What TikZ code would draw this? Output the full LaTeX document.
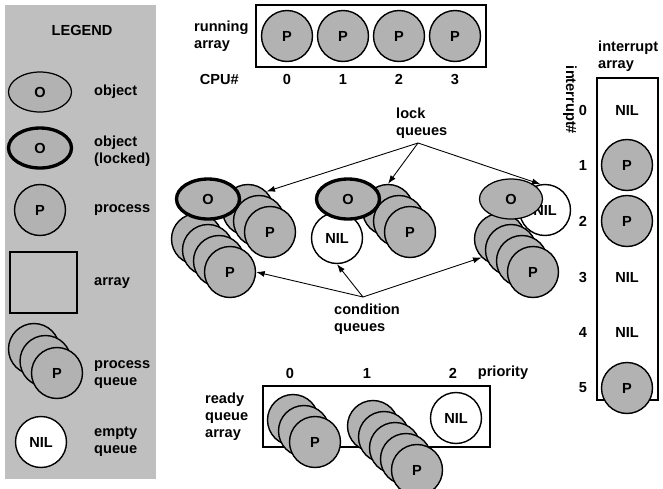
\documentclass[tikz,border=0pt]{standalone}
\usepackage{fontspec}
\setmainfont{Liberation Sans}
\usetikzlibrary{shapes.geometric, arrows.meta}
\definecolor{procfill}{gray}{0.7}
\definecolor{legendbg}{gray}{0.75}
\tikzset{>={Latex[length=1.7mm, width=1.2mm]},
  every node/.style={font=\fontsize{8.3}{9.7}\selectfont\bfseries},
  proc/.style={circle, draw, line width=0.8pt, fill=procfill, minimum size=1.02cm, inner sep=0pt},
  emptyq/.style={proc, fill=white},
  obj/.style={ellipse, draw, line width=0.7pt, fill=procfill, minimum width=1.26cm, minimum height=0.8cm, inner sep=0pt},
  lockedobj/.style={obj, line width=1.9pt},
  arraybox/.style={draw, line width=1.1pt},
  lbl/.style={anchor=west, align=left},
  qarrow/.style={->, line width=0.5pt}
}

\begin{document}
\begin{tikzpicture}[x=0.02cm, y=-0.02cm]
\useasboundingbox (0,0) rectangle (663,488);
% legend
\fill[legendbg] (5,5) rectangle (156,479);
\node (legend) at (82,30) {LEGEND};
\node[obj] (lgobj) at (40,92) {O};
\node[lbl] (lgobjt) at (88,92) {object};
\node[lockedobj] (lglock) at (40,148) {O};
\node[lbl] (lglockt) at (88,151) {object\\(locked)};
\node[proc] (lgproc) at (40,210) {P};
\node[lbl] (lgproct) at (88,210) {process};
\draw[arraybox] (10,252) rectangle (77,313);
\node[lbl] (lgarrt) at (88,283) {array};
\foreach \i in {0,1}
  \node[proc] (lgq\i) at ({34+11.5*\i},{349+12*\i}) {};
\node[proc] (lgq2) at (57,373) {P};
\node[lbl] (lgqt) at (88,375) {process\\queue};
\node[emptyq] (lgnil) at (41,442) {NIL};
\node[lbl] (lgnilt) at (88,442) {empty\\queue};

% running array
\draw[arraybox] (256,5) rectangle (486,67);
\foreach \c [count=\i from 0] in {287,343,399,455} {
  \node[proc] (run\i) at (\c,36) {P};
  \node (cpu\i) at (\c,79) {\i};
}
\node[lbl] (runlbl) at (188,36) {running\\array};
\node[anchor=east] (cpulbl) at (245,79) {CPU\#};

% interrupt array
\draw[arraybox] (597,78) rectangle (658,400);
\node[lbl] (intlbl) at (592,56) {interrupt\\array};
\node[rotate=-90] (intnum) at (570,100) {interrupt\#};
\foreach \y [count=\i from 0] in {110,165,221,277,332,388}
  \node (irq\i) at (583,\y) {\i};
\node (int0) at (627,110) {NIL};
\node[proc] (int1) at (627,165) {P};
\node[proc] (int2) at (627,221) {P};
\node (int3) at (627,277) {NIL};
\node (int4) at (627,332) {NIL};
\node[proc] (int5) at (627,388) {P};

% object with lock queue and condition queue (left)
\foreach \i in {0,1,2}
  \node[proc] (cqa\i) at ({197+11*\i},{239+11*\i}) {};
\node[proc] (cqa3) at (230,272) {P};
\foreach \i in {0,1}
  \node[proc] (lqa\i) at ({248+11*\i},{210+11*\i}) {};
\node[proc] (lqa2) at (270,232) {P};
\node[lockedobj] (obja) at (208,199) {O};

% middle object
\node[emptyq] (cqb) at (337,238) {NIL};
\foreach \i in {0,1}
  \node[proc] (lqb\i) at ({388+11*\i},{210+11*\i}) {};
\node[proc] (lqb2) at (410,232) {P};
\node[lockedobj] (objb) at (348,199) {O};

% right object (not locked)
\node[emptyq] (lqc) at (545,210) {NIL};
\foreach \i in {0,1,2}
  \node[proc] (cqc\i) at ({500+11*\i},{239+11*\i}) {};
\node[proc] (cqc3) at (533,272) {P};
\node[obj] (objc) at (511,199) {O};

% lock queues
\node[lbl] (locklbl) at (390,123) {lock\\queues};
\coordinate (lockpt) at (418,143);
\draw[qarrow] (lockpt) -- (lqa0.45);
\draw[qarrow] (lockpt) -- (lqb0.north);
\draw[qarrow] (lockpt) -- (lqc.100);

% condition queues
\node[lbl] (condlbl) at (328,319) {condition\\queues};
\coordinate (condpt) at (363,297);
\draw[qarrow] (condpt) -- (cqa3.east);
\draw[qarrow] (condpt) -- (cqb.south);
\draw[qarrow] (condpt) -- (cqc0.south west);

% ready queue array
\draw[arraybox] (263,386) rectangle (490,447);
\foreach \x [count=\i from 0] in {290,367,453}
  \node (prio\i) at (\x,373) {\i};
\node (priolbl) at (503,373) {priority};
\node[lbl] (readylbl) at (199,417) {ready\\queue\\array};
\foreach \i in {0,1}
  \node[proc] (rq0\i) at ({293+11*\i},{420+11*\i}) {};
\node[proc] (rq02) at (315,442) {P};
\foreach \i in {0,1,2,3}
  \node[proc] (rq1\i) at ({373+11*\i},{426+11*\i}) {};
\node[proc] (rq14) at (417,470) {P};
\node[emptyq] (rq2) at (456,418) {NIL};
\end{tikzpicture}
\end{document}
